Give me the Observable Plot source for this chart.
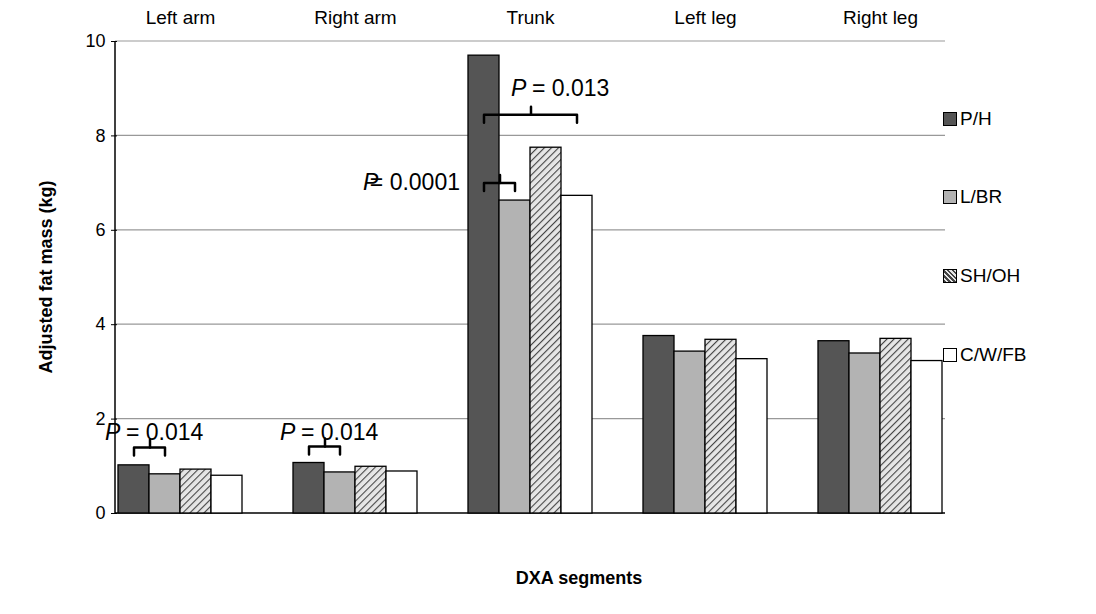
<!DOCTYPE html>
<html><head><meta charset="utf-8">
<script src="https://cdn.jsdelivr.net/npm/d3@7"></script>
<script src="https://cdn.jsdelivr.net/npm/@observablehq/plot@0.6"></script>
<style>
body{margin:0;background:#fff;font-family:"Liberation Sans",Arial,sans-serif;}
#wrap{position:relative;width:1096px;height:614px;}
.lab{position:absolute;font-weight:bold;font-size:18px;color:#000;}
.leg{position:absolute;left:943px;font-size:19px;display:flex;align-items:center;}
.sw{width:12px;height:12px;border:1px solid #000;margin-right:3px;}
</style></head><body><div id="wrap"></div>
<script>
const segments = ["Left arm","Right arm","Trunk","Left leg","Right leg"];
const groups = ["P/H","L/BR","SH/OH","C/W/FB"];
const PH   = [1.02, 1.07, 9.70, 3.76, 3.65];
const LBR  = [0.83, 0.87, 6.63, 3.43, 3.39];
const SHOH = [0.93, 0.99, 7.75, 3.68, 3.70];
const CWFB = [0.80, 0.89, 6.73, 3.27, 3.23];
const yTicks = [0,2,4,6,8,10];
const series = [PH, LBR, SHOH, CWFB];
const data = [];
segments.forEach((s,i)=>groups.forEach((g,j)=>data.push({segment:s, group:g, value:series[j][i]})));
const fills = ["#555555","#b3b3b3","url(#hatch)","#ffffff"];

const ann = [
  {segment:"Left arm", a:"P/H", b:"L/BR", mid:"L/BR", y:1.4, text:"0.014", tx:"P/H", ty:1.72, pdx:-29, tdx:-8, anchor:"start"},
  {segment:"Right arm", a:"P/H", b:"L/BR", mid:"L/BR", y:1.42, text:"0.014", tx:"P/H", ty:1.72, pdx:-29, tdx:-8, anchor:"start"},
  {segment:"Trunk", a:"P/H", b:"L/BR", mid:"L/BR", y:7.0, text:"0.0001", tx:"P/H", ty:7.0, pdx:-121, tdx:-24, anchor:"end"},
  {segment:"Trunk", a:"P/H", b:"C/W/FB", mid:"SH/OH", y:8.45, text:"0.013", tx:"L/BR", ty:9.0, pdx:-4, tdx:17, anchor:"start"}
];
const d = 0.17;
const bracketPts = [];
ann.forEach((a,k)=>{
  [[a.a,a.y-d],[a.a,a.y],[a.b,a.y],[a.b,a.y-d]].forEach(([x,y])=>bracketPts.push({k,segment:a.segment,x,y}));
});
const midPts = [];
ann.forEach((a,k)=>{ midPts.push({k,segment:a.segment,x:a.mid,y:a.y},{k,segment:a.segment,x:a.mid,y:a.y+d}); });

const W=960,H=590,ML=115,MR=15,MT=41,MB=77;
const plot = Plot.plot({
  width:W, height:H, marginLeft:ML, marginRight:MR, marginTop:MT, marginBottom:MB,
  style:{fontFamily:"Liberation Sans, Arial, sans-serif", fontSize:"18px", background:"#fff"},
  fx:{domain:segments, padding:0.28, label:null},
  x:{domain:groups, padding:0, axis:null},
  y:{domain:[0,10], ticks:yTicks, label:null},
  color:{domain:groups, range:fills},
  marks:[
    Plot.axisY({ticks:yTicks, tickSize:6, tickFormat:d=>d, fontSize:18, tickPadding:6}),
    Plot.axisFx({tickSize:0, fontSize:19, tickPadding:18, label:null}),
    Plot.barY(data,{fx:"segment", x:"group", y:"value", fill:"group", stroke:"#000", strokeWidth:1.3}),
    Plot.line(bracketPts,{fx:"segment", x:"x", y:"y", z:"k", stroke:"#000", strokeWidth:2.5}),
    Plot.line(midPts,{fx:"segment", x:"x", y:"y", z:"k", stroke:"#000", strokeWidth:2.5, dx:-15}),
    ...ann.map(a=>Plot.text([a],{fx:"segment", x:"tx", y:"ty", text:()=>"P", textAnchor:"start", fontStyle:"italic", fontSize:23, dx:a.pdx})),
    ...ann.map(a=>Plot.text([a],{fx:"segment", x:"tx", y:"ty", text:x=>(x.anchor==="end"?" = ":"= ")+x.text, textAnchor:a.anchor, fontSize:23, dx:a.tdx}))
  ]
});
const svg = d3.select(plot);
svg.insert("defs",function(){return this.firstChild;}).html('<pattern id="hatch" patternUnits="userSpaceOnUse" width="5" height="5" patternTransform="rotate(45)"><rect width="5" height="5" fill="#e6e6e6"/><line x1="0" y1="0" x2="0" y2="5" stroke="#444" stroke-width="2.2"/></pattern>');
const ys = plot.scale("y");
const g = svg.insert("g",function(){return this.children[2]||null;});
yTicks.forEach(t=>{ g.append("line").attr("x1",ML).attr("x2",W-MR).attr("y1",ys.apply(t)).attr("y2",ys.apply(t)).attr("stroke",t===0?"#000":"#999").attr("stroke-width",t===0?1.5:1.2); });
svg.append("line").attr("x1",ML).attr("x2",ML).attr("y1",MT).attr("y2",H-MB).attr("stroke","#000").attr("stroke-width",1.5);
const wrap=document.getElementById("wrap");
wrap.appendChild(plot);
plot.style.position="absolute"; plot.style.left="0"; plot.style.top="0";
wrap.insertAdjacentHTML("beforeend",'<div class="lab" style="left:579px;top:568px;transform:translateX(-50%)">DXA segments</div>');
wrap.insertAdjacentHTML("beforeend",'<div class="lab" style="left:46px;top:277px;transform:translate(-50%,-50%) rotate(-90deg);white-space:nowrap">Adjusted fat mass (kg)</div>');
const legY=[120,198,277,356];
const sw=["background:#555","background:#b3b3b3","background:repeating-linear-gradient(45deg,#444 0 1.5px,#e6e6e6 1.5px 3.5px)","background:#fff"];
groups.forEach((gname,i)=>wrap.insertAdjacentHTML("beforeend",`<div class="leg" style="top:${legY[i]-12}px"><div class="sw" style="${sw[i]}"></div>${gname}</div>`));
</script></body></html>
